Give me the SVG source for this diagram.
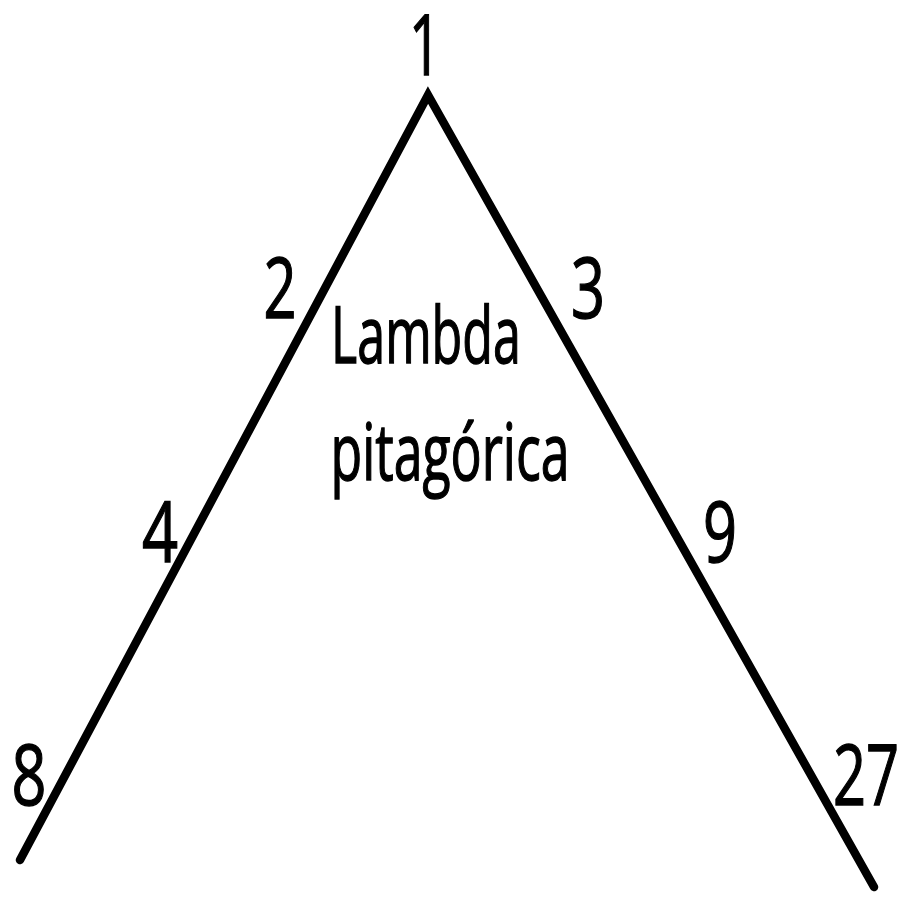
<svg xmlns="http://www.w3.org/2000/svg" width="904" height="897" viewBox="0 0 904 897">
<style>
text{font-family:"Open Sans","Liberation Sans",sans-serif;font-size:84px;fill:#000;stroke:#000;stroke-width:1.4;text-anchor:middle}
.t{font-size:78px}
.ln{stroke:#000;stroke-width:8.5;stroke-linecap:round;fill:none}
</style>
<rect width="904" height="897" fill="#fff"/>
<g id="connectors">
<polyline class="ln" points="20,860 428,95 874,887"/>
</g>
<g id="n1"><text x="425" y="75" textLength="32" lengthAdjust="spacingAndGlyphs">1</text></g>
<g id="n2"><text x="280" y="318" textLength="33" lengthAdjust="spacingAndGlyphs">2</text></g>
<g id="n3"><text x="588" y="318" textLength="34" lengthAdjust="spacingAndGlyphs">3</text></g>
<g id="n4"><text x="160" y="562" textLength="36" lengthAdjust="spacingAndGlyphs">4</text></g>
<g id="n9"><text x="720" y="562" textLength="34" lengthAdjust="spacingAndGlyphs">9</text></g>
<g id="n8"><text x="29" y="805" textLength="35" lengthAdjust="spacingAndGlyphs">8</text></g>
<g id="n27"><text x="866" y="805" textLength="66" lengthAdjust="spacingAndGlyphs">27</text></g>
<g id="title">
<text class="t" x="426" y="363" textLength="190" lengthAdjust="spacingAndGlyphs">Lambda</text>
<text class="t" x="450" y="480" textLength="239" lengthAdjust="spacingAndGlyphs">pitagórica</text>
</g>
</svg>
